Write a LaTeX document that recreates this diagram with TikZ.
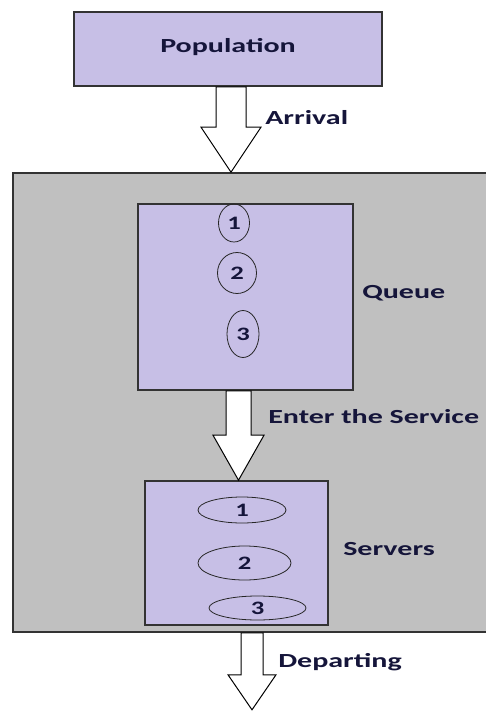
\documentclass[tikz,border=0pt]{standalone}
\usepackage{fontspec}
\setmainfont{Carlito}
\usepackage{tikz}
\usetikzlibrary{calc,shapes.geometric}

\definecolor{lavender}{HTML}{C7BFE6}
\definecolor{boxgray}{HTML}{C0C0C0}
\definecolor{inktext}{HTML}{15153A}

\tikzset{
  box/.style={draw=black!80, line width=1.6pt, fill=lavender, inner sep=0pt},
  blockarrow/.style={draw=black, line width=1pt, fill=white, line join=miter},
  lbl/.style={text=inktext, font=\bfseries\fontsize{20}{24}\selectfont, inner sep=0pt, xscale=1.5, transform shape},
  num/.style={draw=black!85, line width=0.8pt, ellipse, inner sep=0pt, text=inktext, font=\bfseries\fontsize{19}{22}\selectfont}
}

% block arrow pointing down: top, tip, shaft half width, head half width, head length
\newcommand{\blockdown}[5]{%
  \draw[blockarrow] ($(#1)+(-#3,0)$) -- ($(#2)+(-#3,-#5)$) -- ($(#2)+(-#4,-#5)$) -- (#2)
    -- ($(#2)+(#4,-#5)$) -- ($(#2)+(#3,-#5)$) -- ($(#1)+(#3,0)$) -- cycle;}

\begin{document}
\begin{tikzpicture}[x=1pt, y=-1pt]
\useasboundingbox (0,0) rectangle (485,711);

\node[box, minimum width=308pt, minimum height=74pt] (pop) at (228,49) {};
\node[lbl] (poptext) at (228,47) {Population};

\node[draw=black!80, line width=1.6pt, fill=boxgray, minimum width=482pt, minimum height=459pt] (system) at (254,402.5) {};

\node[box, minimum width=215pt, minimum height=186pt] (queue) at (245.5,297) {};
\node[box, minimum width=183pt, minimum height=144pt] (serv) at (236.5,553) {};

% customers waiting
\node[num, minimum width=31pt, minimum height=38pt] (q1) at (234,223) {\scalebox{1.4}[1]{1}};
\node[num, minimum width=39pt, minimum height=41pt] (q2) at (237,273) {\scalebox{1.4}[1]{2}};
\node[num, minimum width=32pt, minimum height=47pt] (q3) at (243,334) {\scalebox{1.4}[1]{3}};

% customers in service
\node[num, minimum width=88pt, minimum height=26pt] (s1) at (242,510) {\scalebox{1.4}[1]{1}};
\node[num, minimum width=93pt, minimum height=34pt] (s2) at (244.5,563) {\scalebox{1.4}[1]{2}};
\node[num, minimum width=97pt, minimum height=24pt] (s3) at (257.5,608) {\scalebox{1.4}[1]{3}};

\coordinate (arrTop) at ([xshift=3pt]pop.south);
\coordinate (arrTip) at (arrTop |- system.north);
\blockdown{arrTop}{arrTip}{15}{30}{45}

\coordinate (entTop) at ([xshift=-7pt]queue.south);
\coordinate (entTip) at (entTop |- serv.north);
\blockdown{entTop}{entTip}{12.5}{25.5}{45}

\coordinate (depTop) at ([xshift=15.5pt]serv.south |- system.south);
\coordinate (depTip) at ([yshift=-77pt]depTop);
\blockdown{depTop}{depTip}{11}{24}{35}

\node[lbl, anchor=west] (arrival) at (265,118) {Arrival};
\node[lbl, anchor=west] (queuelbl) at (362,293) {Queue};
\node[lbl, anchor=west] (enter) at (268,417) {Enter the Service};
\node[lbl, anchor=west] (servlbl) at (343,549) {Servers};
\node[lbl, anchor=west] (depart) at (278,662) {Departing};

\end{tikzpicture}
\end{document}
